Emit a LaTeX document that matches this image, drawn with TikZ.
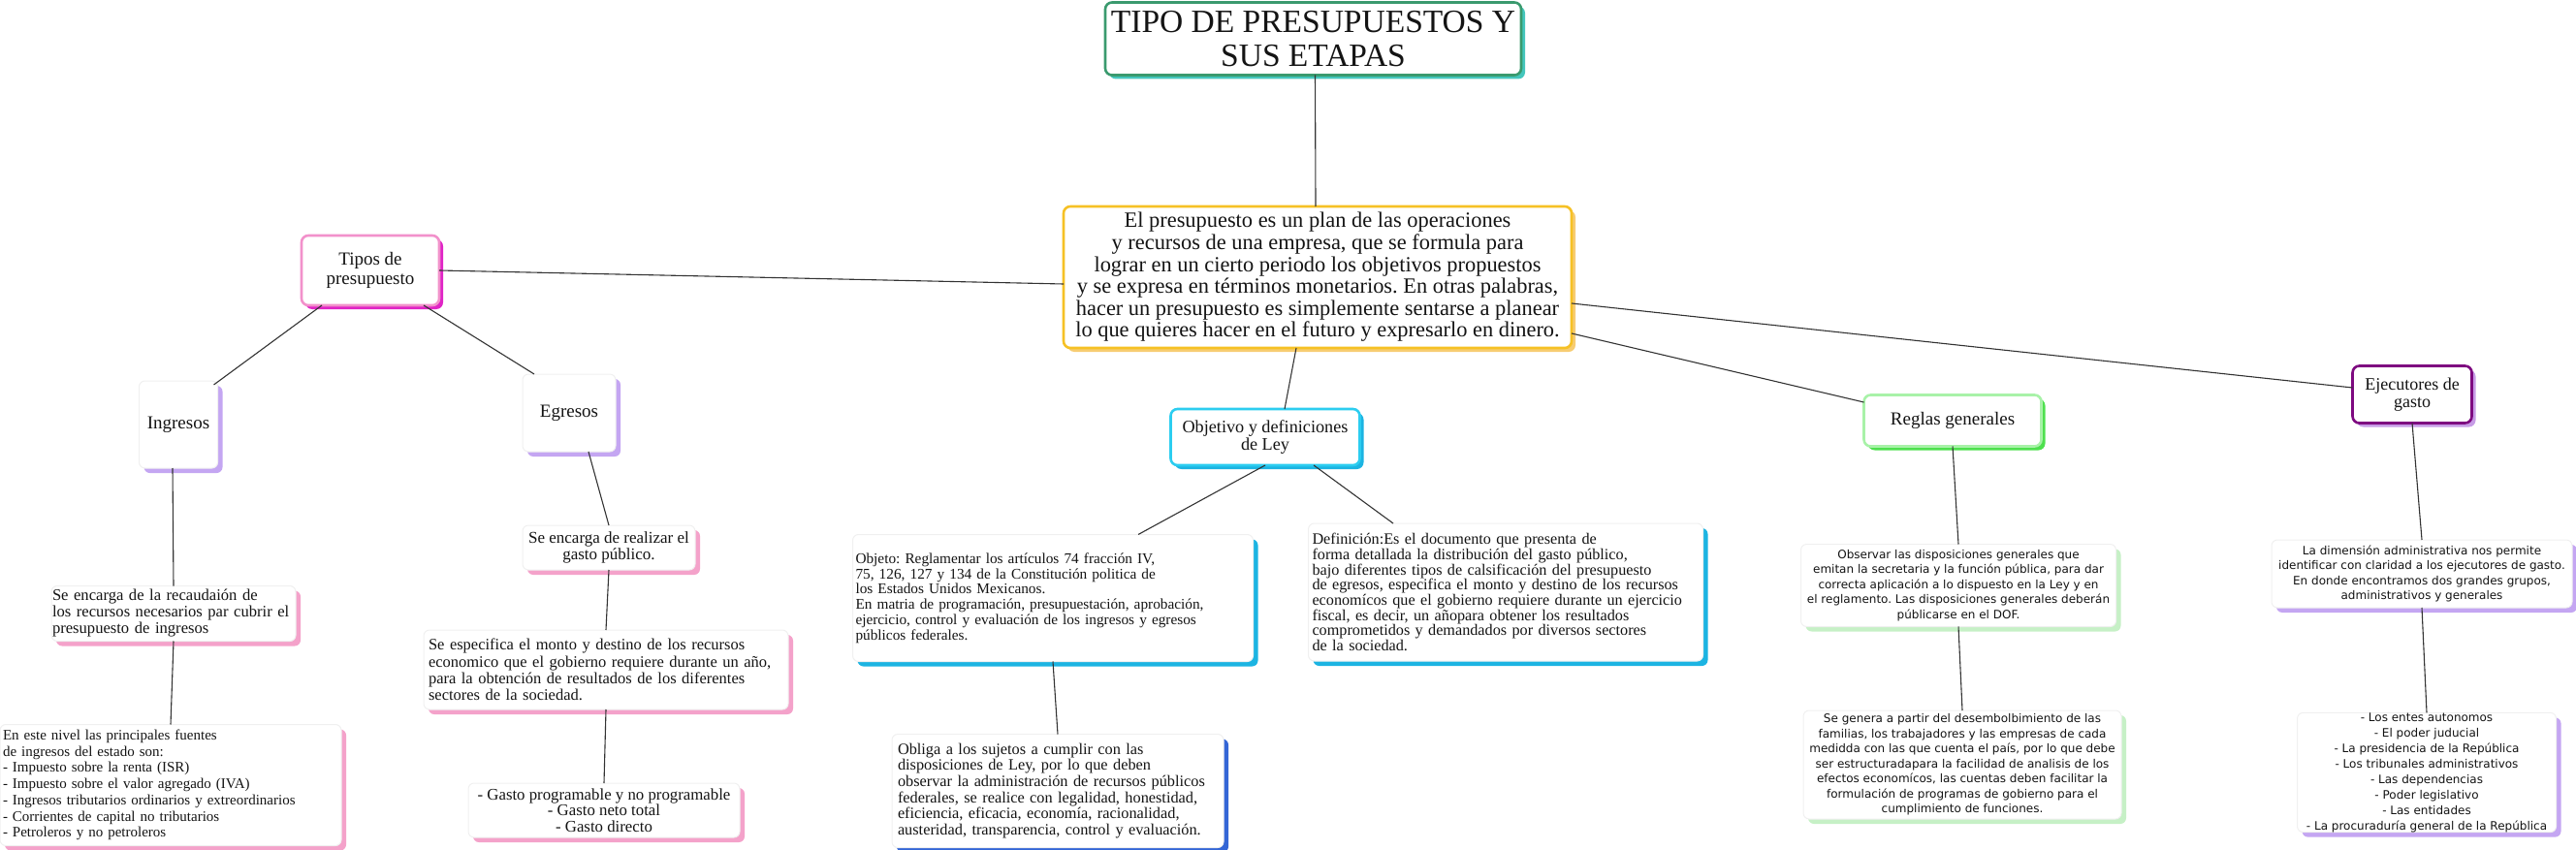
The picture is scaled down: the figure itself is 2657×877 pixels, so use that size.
\documentclass[tikz,border=0pt]{standalone}
\usepackage{fontspec}
\setmainfont{Liberation Serif}
\newfontfamily\sansf{DejaVu Sans}
\usetikzlibrary{shadows}
\frenchspacing
\definecolor{ttlB}{HTML}{3A9A6E}
\definecolor{ttlS}{HTML}{44C6BC}
\definecolor{cenB}{HTML}{F6C125}
\definecolor{cenS}{HTML}{F7CC72}
\definecolor{tipB}{HTML}{F291CB}
\definecolor{tipS}{HTML}{E024C6}
\definecolor{lavS}{HTML}{C4A6F2}
\definecolor{pinkS}{HTML}{F4A2CA}
\definecolor{objB}{HTML}{2CCDF0}
\definecolor{objS}{HTML}{1CB4E2}
\definecolor{blueS}{HTML}{3466D6}
\definecolor{regB}{HTML}{A8F2A8}
\definecolor{regS}{HTML}{4EE04E}
\definecolor{grnS}{HTML}{C6F0C6}
\definecolor{ejeB}{HTML}{7E0A80}
\definecolor{ejeS}{HTML}{C79CE6}
\tikzset{
  every node/.style={inner sep=0pt, outer sep=0pt, text=black!92},
  conn/.style={draw=black!80, line width=1.1pt},
  mainbox/.style 2 args={draw=#1, line width=2.6pt, fill=white, rounded corners=7pt,
     drop shadow={shadow xshift=4pt, shadow yshift=-4pt, fill=#2, opacity=1}},
  callout/.style={draw=black!6, line width=1pt, fill=white, rounded corners=6pt,
     drop shadow={shadow xshift=5pt, shadow yshift=-5pt, fill=#1, opacity=1}},
  fTitle/.style={font=\fontsize{33.5}{35}\selectfont},
  fCen/.style={font=\fontsize{22.4}{22.6}\selectfont},
  fBig/.style={font=\fontsize{19}{19.5}\selectfont},
  fEje/.style={font=\fontsize{18}{18.5}\selectfont},
  fObj/.style={font=\fontsize{18.2}{18}\selectfont},
  fRec/.style={font=\fontsize{16.6}{17}\selectfont},
  fFue/.style={font=\fontsize{15}{16.7}\selectfont},
  fRea/.style={font=\fontsize{17}{17.5}\selectfont},
  fEsp/.style={font=\fontsize{16.5}{17.2}\selectfont},
  fGas/.style={font=\fontsize{16.8}{16.5}\selectfont},
  fObjeto/.style={font=\fontsize{15.3}{15.7}\selectfont},
  fObl/.style={font=\fontsize{16.3}{16.7}\selectfont},
  fDef/.style={font=\fontsize{16.2}{15.7}\selectfont},
  fSans/.style={font=\sansf\fontsize{12}{15.5}\selectfont},
  fSansB/.style={font=\sansf\fontsize{12}{16}\selectfont},
}
\begin{document}
\begin{tikzpicture}[x=1pt,y=-1pt]
\useasboundingbox (0,0) rectangle (2657,877);
% title
\node[mainbox={ttlB}{ttlS}, fTitle, align=center, minimum width=429, minimum height=75] (title) at (1354.5,40)
  {TIPO DE PRESUPUESTOS Y\\SUS ETAPAS};
% central
\node[mainbox={cenB}{cenS}, fCen, align=center, minimum width=524, minimum height=146] (central) at (1359,286)
  {El presupuesto es un plan de las operaciones\\
   y recursos de una empresa, que se formula para\\
   lograr en un cierto periodo los objetivos propuestos\\
   y se expresa en términos monetarios. En otras palabras,\\
   hacer un presupuesto es simplemente sentarse a planear\\
   lo que quieres hacer en el futuro y expresarlo en dinero.};
% left branch
\node[mainbox={tipB}{tipS}, fBig, align=center, minimum width=142, minimum height=72] (tipos) at (382,279)
  {Tipos de\\presupuesto};
\node[callout=lavS, fBig, minimum width=81, minimum height=90] (ingresos) at (184,438) {Ingresos};
\node[callout=lavS, fBig, minimum width=96, minimum height=80] (egresos) at (587,426) {Egresos};
\node[callout=pinkS, fRec, align=left, minimum width=252, minimum height=57, text width=250, inner xsep=1pt] (recaud) at (179,633)
  {Se encarga de la recaudaión de\\
   los recursos necesarios par cubrir el\\
   presupuesto de ingresos};
\node[callout=pinkS, fFue, align=left, minimum width=352, minimum height=125, text width=346, inner xsep=3pt] (fuentes) at (176,810)
  {En este nivel las principales fuentes\\
   de ingresos del estado son:\\
   - Impuesto sobre la renta (ISR)\\
   - Impuesto sobre el valor agregado (IVA)\\
   - Ingresos tributarios ordinarios y extreordinarios\\
   - Corrientes de capital no tributarios\\
   - Petroleros y no petroleros};
\node[callout=pinkS, fRea, align=center, minimum width=178, minimum height=46] (realizar) at (628,565)
  {Se encarga de realizar el\\gasto público.};
\node[callout=pinkS, fEsp, align=left, minimum width=376, minimum height=82, text width=366, inner xsep=5pt] (especifica) at (625,691)
  {Se especifica el monto y destino de los recursos\\
   economico que el gobierno requiere durante un año,\\
   para la obtención de resultados de los diferentes\\
   sectores de la sociedad.};
\node[callout=pinkS, fGas, align=center, minimum width=280, minimum height=56] (gasto) at (623,836)
  {- Gasto programable y no programable\\
   - Gasto neto total\\
   - Gasto directo};
% middle branch
\node[mainbox={objB}{objS}, fObj, align=center, minimum width=195, minimum height=58] (objetivo) at (1305,451)
  {Objetivo y definiciones\\de Ley};
\node[callout=objS, fObjeto, align=left, minimum width=413, minimum height=131, text width=407, inner xsep=3pt] (objeto) at (1086,617)
  {Objeto: Reglamentar los artículos 74 fracción IV,\\
   75, 126, 127 y 134 de la Constitución politica de\\
   los Estados Unidos Mexicanos.\\
   En matria de programación, presupuestación, aprobación,\\
   ejercicio, control y evaluación de los ingresos y egresos\\
   públicos federales.};
\node[callout=blueS, fObl, align=left, minimum width=342, minimum height=117, text width=330, inner xsep=6pt] (obliga) at (1091,816)
  {Obliga a los sujetos a cumplir con las\\
   disposiciones de Ley, por lo que deben\\
   observar la administración de recursos públicos\\
   federales, se realice con legalidad, honestidad,\\
   eficiencia, eficacia, economía, racionalidad,\\
   austeridad, transparencia, control y evaluación.};
\node[callout=objS, fDef, align=left, minimum width=407, minimum height=142, text width=399, inner xsep=4pt] (definicion) at (1553,611)
  {Definición:Es el documento que presenta de\\
   forma detallada la distribución del gasto público,\\
   bajo diferentes tipos de calsificación del presupuesto\\
   de egresos, especifica el monto y destino de los recursos\\
   economícos que el gobierno requiere durante un ejercicio\\
   fiscal, es decir, un añopara obtener los resultados\\
   comprometidos y demandados por diversos sectores\\
   de la sociedad.};
% right branch
\node[mainbox={regB}{regS}, fBig, minimum width=183, minimum height=53] (reglas) at (2014,434) {Reglas generales};
\node[mainbox={ejeB}{ejeS}, fEje, align=center, minimum width=123, minimum height=59] (ejecutores) at (2488,407)
  {Ejecutores de\\gasto};
\node[callout=grnS, fSans, align=center, minimum width=325, minimum height=85] (observar) at (2020,604)
  {Observar las disposiciones generales que\\
   emitan la secretaria y la función pública, para dar\\
   correcta aplicación a lo dispuesto en la Ley y en\\
   el reglamento. Las disposiciones generales deberán\\
   públicarse en el DOF.};
\node[callout=grnS, fSans, align=center, minimum width=328, minimum height=112] (segenera) at (2024,789)
  {Se genera a partir del desembolbimiento de las\\
   familias, los trabajadores y las empresas de cada\\
   medidda con las que cuenta el país, por lo que debe\\
   ser estructuradapara la facilidad de analisis de los\\
   efectos economícos, las cuentas deben facilitar la\\
   formulación de programas de gobierno para el\\
   cumplimiento de funciones.};
\node[callout=lavS, fSans, align=center, minimum width=310, minimum height=70] (dimension) at (2498,592)
  {La dimensión administrativa nos permite\\
   identificar con claridad a los ejecutores de gasto.\\
   En donde encontramos dos grandes grupos,\\
   administrativos y generales};
\node[callout=lavS, fSansB, align=center, minimum width=267, minimum height=121] (entes) at (2503,797)
  {- Los entes autonomos\\
   - El poder juducial\\
   - La presidencia de la República\\
   - Los tribunales administrativos\\
   - Las dependencias\\
   - Poder legislativo\\
   - Las entidades\\
   - La procuraduría general de la República};
% connectors
\draw[conn] ([xshift=2pt]title.south) -- ([xshift=-2pt]central.north);
\draw[conn] (tipos.east) -- ([yshift=-7pt]central.west);
\draw[conn] ([xshift=-50pt]tipos.south) -- ([xshift=-4pt,yshift=-4pt]ingresos.north east);
\draw[conn] ([xshift=55pt]tipos.south) -- ([xshift=12pt]egresos.north west);
\draw[conn] ([xshift=-6pt]ingresos.south) -- (recaud.north);
\draw[conn] (recaud.south) -- (fuentes.north);
\draw[conn] ([xshift=20pt]egresos.south) -- (realizar.north);
\draw[conn] (realizar.south) -- (especifica.north);
\draw[conn] (especifica.south) -- (gasto.north);
\draw[conn] ([xshift=-22pt]central.south) -- ([xshift=20pt]objetivo.north);
\draw[conn] (objetivo.south) -- ([xshift=88pt]objeto.north);
\draw[conn] ([xshift=50pt]objetivo.south) -- ([xshift=-116pt]definicion.north);
\draw[conn] (objeto.south) -- (obliga.north);
\draw[conn] ([yshift=-58pt]central.east) -- ([yshift=19pt]reglas.west);
\draw[conn] ([yshift=-27pt]central.east) -- ([yshift=7pt]ejecutores.west);
\draw[conn] (reglas.south) -- (observar.north);
\draw[conn] (observar.south) -- (segenera.north);
\draw[conn] (ejecutores.south) -- (dimension.north);
\draw[conn] (dimension.south) -- (entes.north);
\end{tikzpicture}
\end{document}
